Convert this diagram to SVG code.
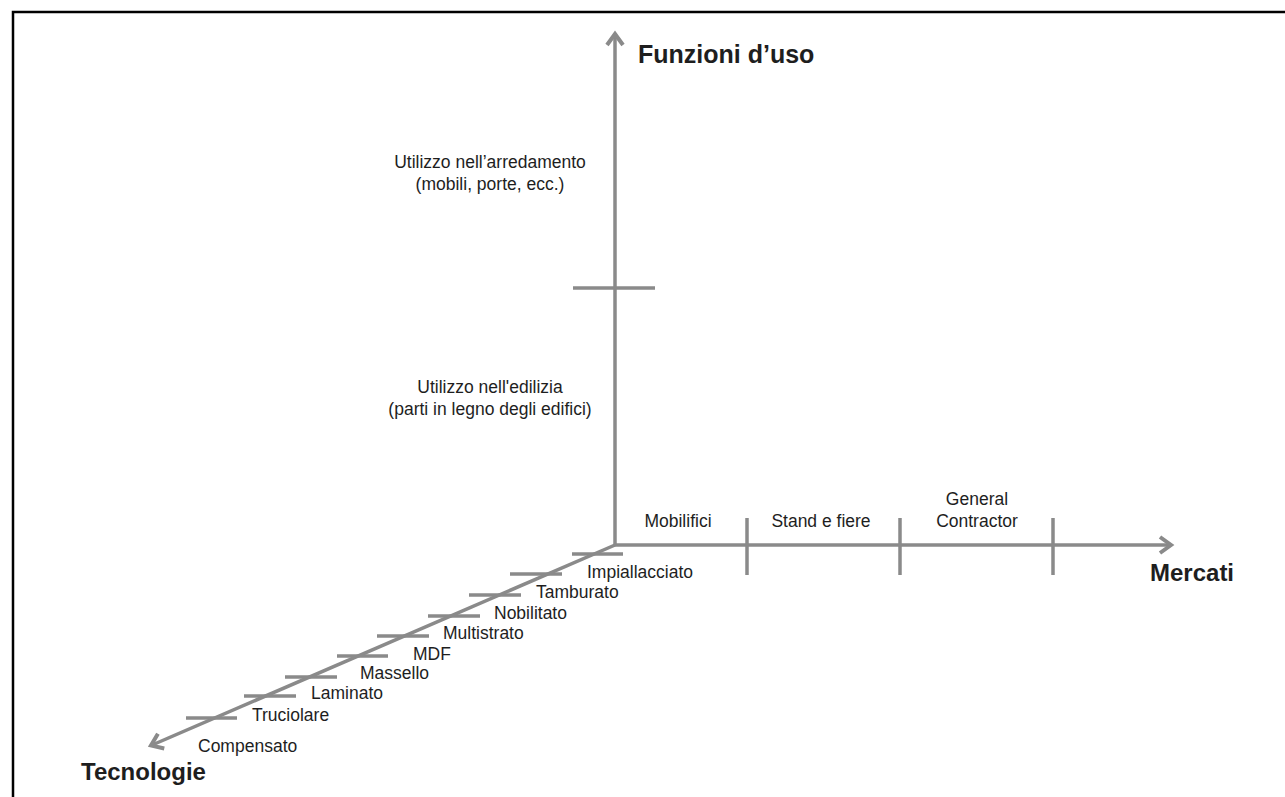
<svg xmlns="http://www.w3.org/2000/svg" width="1285" height="797" viewBox="0 0 1285 797">
<style>
.ax{stroke:#8a8a8a;stroke-width:3.5;fill:none}
.tk{stroke:#8a8a8a;stroke-width:3.5;fill:none}
.lb{font-family:"Liberation Sans",Arial,sans-serif;font-size:17.5px;fill:#1e1e1e}
.ti{font-family:"Liberation Sans",Arial,sans-serif;font-size:24px;font-weight:bold;fill:#1e1e1e}
</style>
<defs>
<marker id="arr" markerUnits="userSpaceOnUse" markerWidth="30" markerHeight="30" viewBox="-15 -15 30 30" refX="0" refY="0" orient="auto" overflow="visible">
<path d="M-11,-8 L0,0 L-11,8" fill="none" stroke="#8a8a8a" stroke-width="4"/>
</marker>
</defs>
<rect width="1285" height="797" fill="#fff"/>
<path d="M13,800 L13,12 L1290,12" fill="none" stroke="#000" stroke-width="2.5"/>
<g id="connectors">
<line class="ax" x1="615" y1="545" x2="615" y2="34" marker-end="url(#arr)"/>
<line class="ax" x1="614" y1="545" x2="1171" y2="545" marker-end="url(#arr)"/>
<line class="ax" x1="615" y1="545" x2="151" y2="745.5" marker-end="url(#arr)"/>
</g>
<g id="ticks">
<line class="tk" x1="573" y1="288" x2="655" y2="288"/>
<line class="tk" x1="747" y1="518" x2="747" y2="575"/>
<line class="tk" x1="900" y1="518" x2="900" y2="575"/>
<line class="tk" x1="1053" y1="518" x2="1053" y2="575"/>
<line class="tk" x1="572" y1="554" x2="623" y2="554"/>
<line class="tk" x1="510" y1="574" x2="562" y2="574"/>
<line class="tk" x1="469" y1="595" x2="521" y2="595"/>
<line class="tk" x1="428" y1="616" x2="480" y2="616"/>
<line class="tk" x1="377" y1="636" x2="429" y2="636"/>
<line class="tk" x1="337" y1="656" x2="388" y2="656"/>
<line class="tk" x1="285" y1="677" x2="337" y2="677"/>
<line class="tk" x1="244" y1="696" x2="296" y2="696"/>
<line class="tk" x1="186" y1="718" x2="237" y2="718"/>
</g>
<g id="axis-titles">
<text id="funzioni" class="ti" x="638" y="63" style="font-size:25px">Funzioni d’uso</text>
<text id="mercati" class="ti" x="1150" y="581">Mercati</text>
<text id="tecnologie" class="ti" x="81" y="780">Tecnologie</text>
</g>
<g id="funzioni-labels" class="lb" text-anchor="middle">
<text x="490" y="168">Utilizzo nell’arredamento</text>
<text x="490" y="190">(mobili, porte, ecc.)</text>
<text x="490" y="393">Utilizzo nell'edilizia</text>
<text x="490" y="415">(parti in legno degli edifici)</text>
</g>
<g id="mercati-labels" class="lb" text-anchor="middle">
<text x="678" y="527">Mobilifici</text>
<text x="821" y="527">Stand e fiere</text>
<text x="977" y="505">General</text>
<text x="977" y="527">Contractor</text>
</g>
<g id="tecnologie-labels" class="lb">
<text x="587" y="578">Impiallacciato</text>
<text x="536" y="598">Tamburato</text>
<text x="494" y="619">Nobilitato</text>
<text x="443" y="639">Multistrato</text>
<text x="413" y="660">MDF</text>
<text x="360" y="679">Massello</text>
<text x="311" y="699">Laminato</text>
<text x="252" y="721">Truciolare</text>
<text x="198" y="752">Compensato</text>
</g>
</svg>
